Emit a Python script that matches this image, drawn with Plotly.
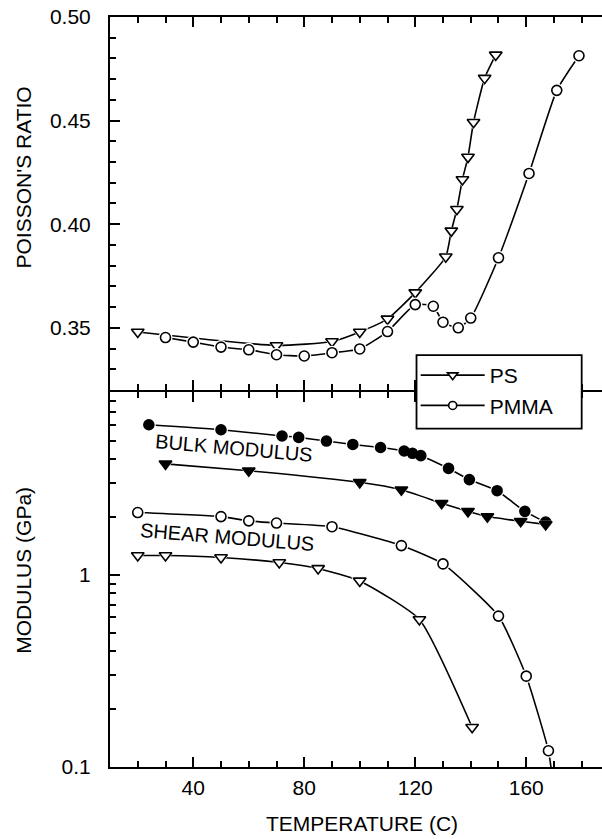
import plotly.graph_objects as go
from plotly.subplots import make_subplots

# ---------------- data ----------------
# Top panel: Poisson's ratio vs temperature
ps_nu_T = [20, 70, 90, 100, 110, 120, 131, 133, 135, 137, 139, 141, 145, 149]
ps_nu = [0.348, 0.3415, 0.3434, 0.348, 0.3543, 0.367, 0.3843, 0.3968, 0.4072,
         0.4216, 0.4324, 0.4492, 0.4705, 0.4817]
pmma_nu_T = [30, 40, 50, 60, 70, 80, 90, 100, 110, 120, 126.5, 130, 135.5, 140,
             150, 161, 171, 179]
pmma_nu = [0.3453, 0.3431, 0.3407, 0.3394, 0.337, 0.3364, 0.338, 0.3398, 0.3482,
           0.3612, 0.3604, 0.3527, 0.350, 0.3547, 0.3838, 0.4245, 0.4646, 0.4813]

# Bottom panel: modulus (GPa) vs temperature
pmma_bulk_T = [24, 50, 72, 78, 88, 97.5, 107.5, 116, 119, 122, 132, 139.5, 149.5, 159.5, 167]
pmma_bulk = [6.04, 5.69, 5.28, 5.19, 4.97, 4.77, 4.60, 4.41, 4.29, 4.17, 3.58, 3.13,
             2.74, 2.14, 1.88]
ps_bulk_T = [30, 60, 100, 115, 129.5, 139, 146, 158, 167]
ps_bulk = [3.78, 3.48, 3.03, 2.77, 2.36, 2.14, 2.01, 1.90, 1.83]
pmma_shear_T = [20, 50, 60, 70, 90, 115, 130, 150, 160, 168]
pmma_shear = [2.11, 2.01, 1.91, 1.86, 1.78, 1.42, 1.14, 0.61, 0.297, 0.1215]
pmma_shear_tail_T = [169.3]
pmma_shear_tail = [0.09]
ps_shear_T = [20, 30, 50, 71, 85, 100, 121.5, 140.5]
ps_shear = [1.26, 1.26, 1.23, 1.16, 1.08, 0.93, 0.586, 0.161]

# ticks
x_major = [40, 80, 120, 160]
x_major_labels = ["40", "80", "120", "160"]
x_minor = [20, 30, 50, 60, 70, 90, 100, 110, 130, 140, 150, 170, 180]
nu_major = [0.35, 0.40, 0.45, 0.50]
nu_major_labels = ["0.35", "0.40", "0.45", "0.50"]
mod_major = [0.1, 1]
mod_major_labels = ["0.1", "1"]
mod_minor = [0.2, 0.3, 0.4, 0.5, 0.6, 0.7, 0.8, 0.9, 2, 3, 4, 5, 6, 7, 8]

FONT = "Liberation Sans, Arial, Helvetica, sans-serif"

fig = make_subplots(rows=2, cols=1, shared_xaxes=True, vertical_spacing=0)


def add_series(T, V, row, symbol, filled, size, line_T=None, line_V=None):
    lt = T + (line_T or [])
    lv = V + (line_V or [])
    fig.add_trace(go.Scatter(x=lt, y=lv, mode="lines", showlegend=False,
                             line=dict(color="black", width=1.6, shape="spline", smoothing=0.5),
                             hoverinfo="skip"), row=row, col=1)
    fig.add_trace(go.Scatter(x=T, y=V, mode="markers", showlegend=False,
                             marker=dict(symbol=symbol, size=size + 4, color="white",
                                         line=dict(width=0)),
                             hoverinfo="skip"), row=row, col=1)
    fig.add_trace(go.Scatter(x=T, y=V, mode="markers", showlegend=False,
                             marker=dict(symbol=symbol, size=size,
                                         color="black" if filled else "white",
                                         line=dict(color="black", width=1.6))),
                  row=row, col=1)


add_series(ps_nu_T, ps_nu, 1, "triangle-down", False, 11)
add_series(pmma_nu_T, pmma_nu, 1, "circle", False, 10)
add_series(pmma_bulk_T, pmma_bulk, 2, "circle", True, 10)
add_series(ps_bulk_T, ps_bulk, 2, "triangle-down", True, 11)
add_series(pmma_shear_T, pmma_shear, 2, "circle", False, 10, pmma_shear_tail_T, pmma_shear_tail)
add_series(ps_shear_T, ps_shear, 2, "triangle-down", False, 11)

# legend-only entries
fig.add_trace(go.Scatter(x=[None], y=[None], mode="lines+markers", name="PS",
                         line=dict(color="black", width=1.8),
                         marker=dict(symbol="triangle-down", size=9, color="white",
                                     line=dict(color="black", width=1.6))), row=1, col=1)
fig.add_trace(go.Scatter(x=[None], y=[None], mode="lines+markers", name="PMMA",
                         line=dict(color="black", width=1.8),
                         marker=dict(symbol="circle", size=8, color="white",
                                     line=dict(color="black", width=1.6))), row=1, col=1)

axis_common = dict(showline=True, linecolor="black", linewidth=2, ticks="inside",
                   ticklen=10, tickwidth=1.6, tickcolor="black", showgrid=False,
                   zeroline=False, mirror="ticks")

x_common = dict(axis_common, range=[10, 187.3], tickmode="array", tickvals=x_major,
                ticktext=x_major_labels,
                minor=dict(tickmode="array", tickvals=x_minor, ticks="inside", ticklen=6,
                           tickwidth=1.6, tickcolor="black", showgrid=False))
fig.update_xaxes(**x_common, showticklabels=False, row=1, col=1)
fig.update_xaxes(**x_common, showticklabels=True, ticklabelstandoff=1,
                 tickfont=dict(size=21, family=FONT, color="black"), row=2, col=1)

fig.update_yaxes(**dict(axis_common, mirror=False), range=[0.32, 0.50], tickmode="array",
                 tickvals=nu_major, ticktext=nu_major_labels, ticklabelstandoff=13,
                 tickfont=dict(size=21, family=FONT, color="black"),
                 minor=dict(tick0=0.32, dtick=0.01, ticks="inside", ticklen=6,
                            tickwidth=1.6, tickcolor="black", showgrid=False),
                 domain=[0.5027, 1.0], row=1, col=1)
fig.update_yaxes(**dict(axis_common, mirror=False), type="log", range=[-1, 0.9515],
                 tickmode="array", tickvals=mod_major, ticktext=mod_major_labels,
                 ticklabelstandoff=13, tickfont=dict(size=21, family=FONT, color="black"),
                 minor=dict(tickmode="array", tickvals=mod_minor, ticks="inside", ticklen=6,
                            tickwidth=1.6, tickcolor="black", showgrid=False),
                 domain=[0.0, 0.5], row=2, col=1)

annotations = [
    dict(text="POISSON'S RATIO", x=-0.1748, y=0.786, textangle=-90),
    dict(text="MODULUS (GPa)", x=-0.1748, y=0.263, textangle=-90),
    dict(text="TEMPERATURE (C)", x=0.5116, y=-0.0747, textangle=0),
    dict(text="BULK MODULUS", x=0.252, y=0.4253, textangle=5, size=20),
    dict(text="SHEAR MODULUS", x=0.2372, y=0.3073, textangle=4.6, size=20),
]
for a in annotations:
    fig.add_annotation(text=a["text"], x=a["x"], y=a["y"], xref="paper", yref="paper",
                       xanchor="center", yanchor="middle", showarrow=False,
                       textangle=a["textangle"],
                       font=dict(size=a.get("size", 21), family=FONT, color="black"))

# legend frame (white box with black border, hides the panel divider beneath it)
fig.add_shape(type="rect", xref="paper", yref="paper", x0=0.623, x1=0.9587,
              y0=0.4513, y1=0.5493, layer="above", fillcolor="white",
              line=dict(color="black", width=1.8))

fig.update_layout(
    width=602, height=839,
    margin=dict(l=110, r=0, t=17, b=72, pad=0),
    plot_bgcolor="white", paper_bgcolor="white",
    font=dict(family=FONT, size=21, color="black"),
    showlegend=True,
    legend=dict(x=0.6213, y=0.5493, xanchor="left", yanchor="top",
                bgcolor="rgba(0,0,0,0)", borderwidth=0, font=dict(size=21, family=FONT),
                tracegroupgap=0, itemwidth=64),
)

fig.write_html(
    "out.html",
    config={"displayModeBar": False},
    post_script="document.body.style.margin='0';document.body.style.overflow='hidden';",
)
